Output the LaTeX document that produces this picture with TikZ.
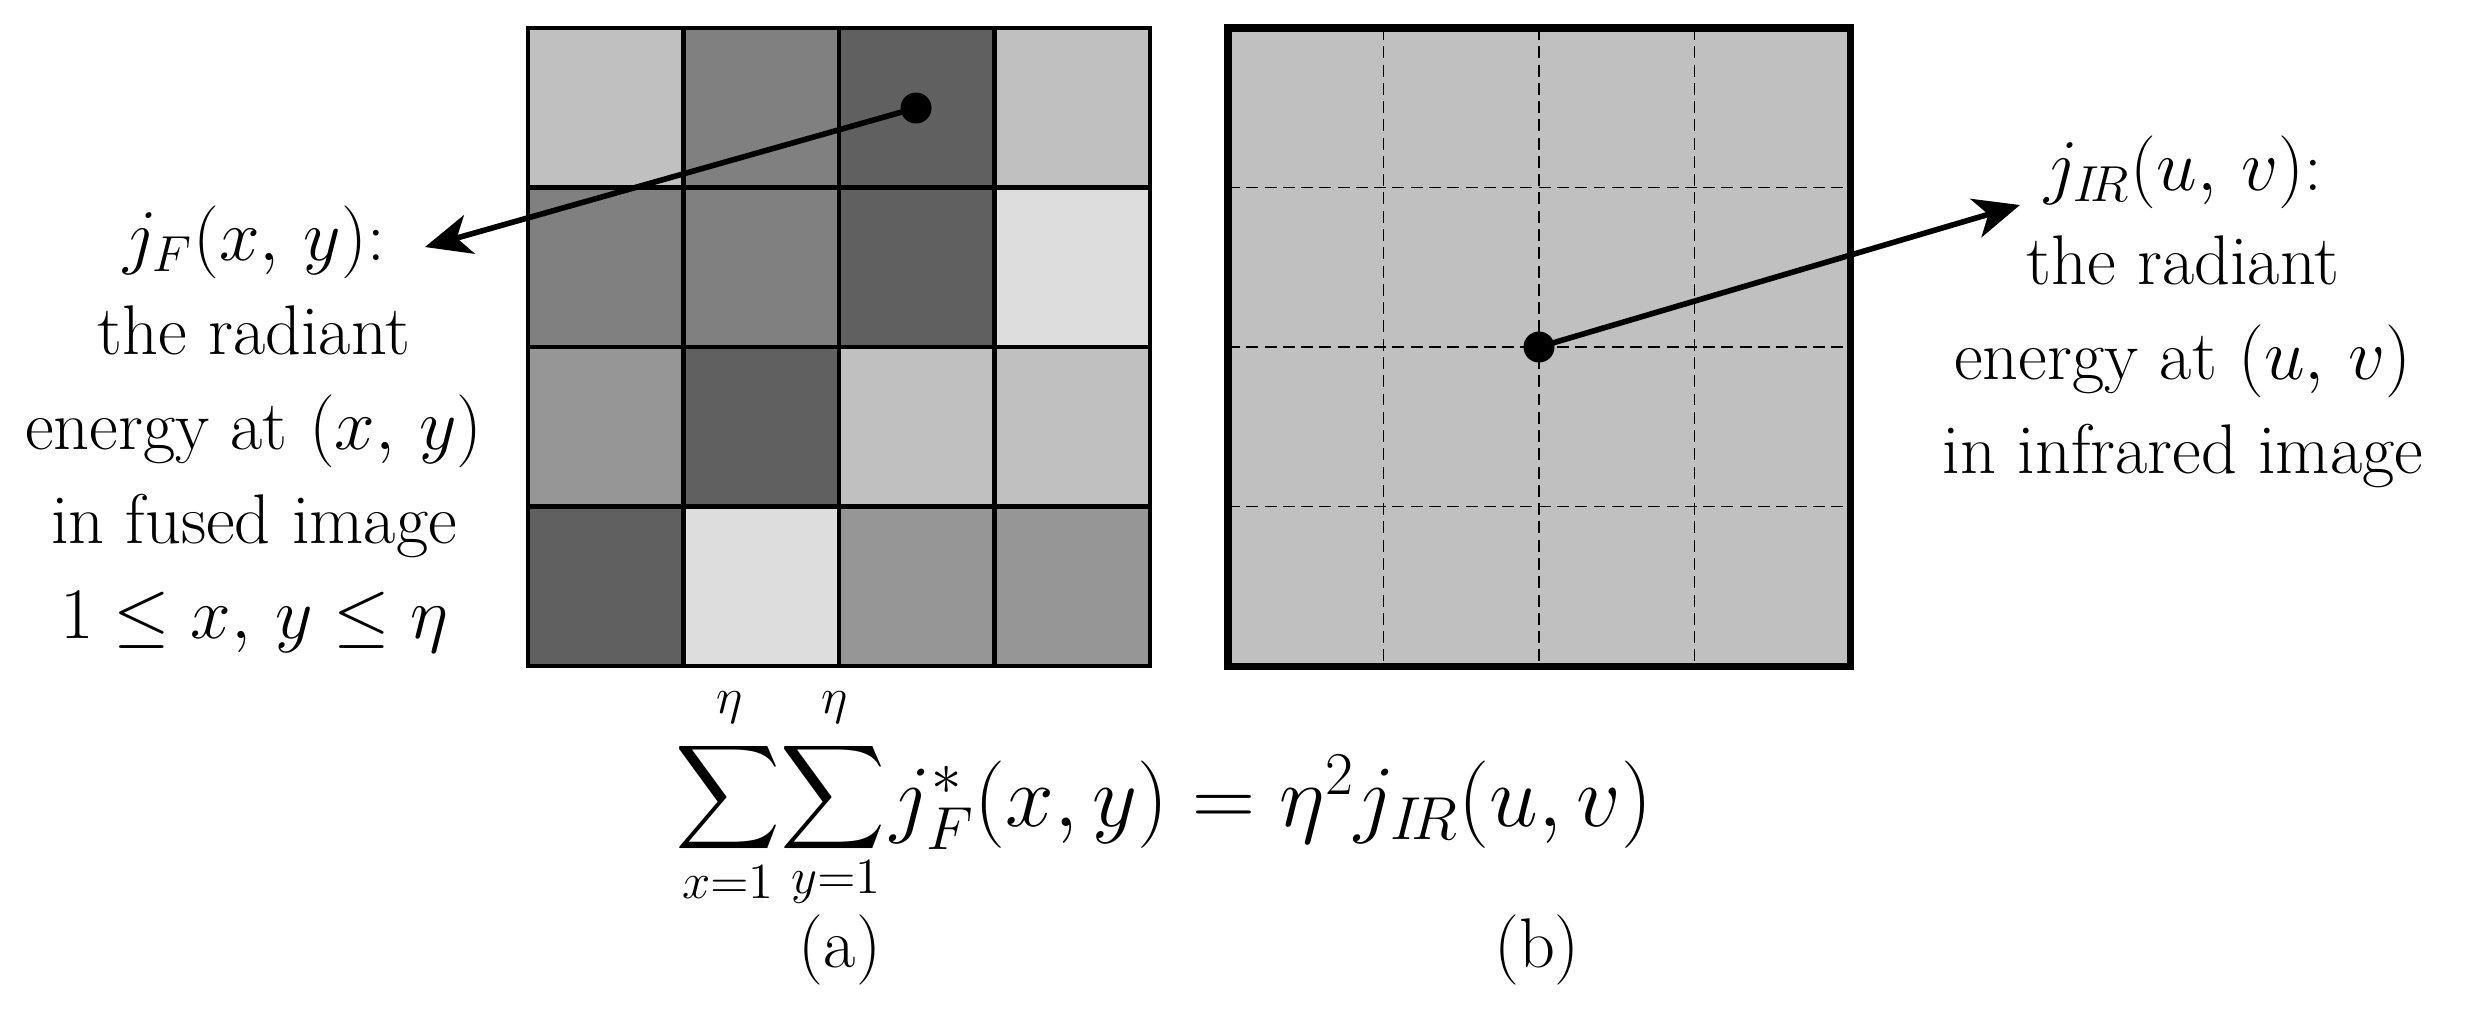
\documentclass[tikz,border=0pt]{standalone}
\usepackage{exscale}
\usetikzlibrary{arrows.meta}
\definecolor{gA}{HTML}{C0C0C0}
\definecolor{gB}{HTML}{808080}
\definecolor{gC}{HTML}{606060}
\definecolor{gD}{HTML}{DDDDDD}
\definecolor{gE}{HTML}{969696}
\tikzset{
  lbl/.style={align=center, inner sep=0pt, font=\fontsize{20}{26.9}\selectfont},
  eqf/.style={inner sep=0pt, font=\fontsize{25.5}{30}\selectfont},
  sigf/.style={inner sep=0pt, font=\fontsize{22.4}{26}\selectfont},
  limf/.style={inner sep=0pt, font=\fontsize{14}{16}\selectfont},
  capf/.style={inner sep=0pt, font=\fontsize{20}{26}\selectfont},
  dotnode/.style={circle, fill=black, inner sep=0pt, minimum size=3.1mm},
  pointer/.style={line width=1.6pt, -{Stealth[length=4.6mm, width=4mm, inset=1.3mm]}},
  gridline/.style={line width=1.2pt},
  dashline/.style={line width=0.4pt, dash pattern=on 3.4pt off 1.8pt},
}
\begin{document}
\begin{tikzpicture}[x=0.1mm, y=-0.1mm]
\useasboundingbox (0,0) rectangle (2471,1011);
% left grid cells
\def\cx{{528,683.5,839,994.5,1150}}
\def\cy{{28,187.5,347,506.5,666}}
\foreach \c [count=\i from 0] in {gA,gB,gC,gA, gB,gB,gC,gD, gE,gC,gA,gA, gC,gD,gE,gE}{
  \pgfmathtruncatemacro\col{mod(\i,4)}
  \pgfmathtruncatemacro\row{div(\i,4)}
  \pgfmathsetmacro\xa{\cx[\col]}
  \pgfmathsetmacro\xb{\cx[\col+1]}
  \pgfmathsetmacro\ya{\cy[\row]}
  \pgfmathsetmacro\yb{\cy[\row+1]}
  \fill[\c] (\xa,\ya) rectangle (\xb,\yb);
}
\foreach \x in {683.5,839,994.5} \draw[gridline] (\x,28) -- (\x,666);
\foreach \y in {187.5,347,506.5} \draw[gridline] (528,\y) -- (1150,\y);
\draw[line width=1.4pt] (528,28) rectangle (1150,666);
% right grid
\fill[gA] (1228,28) rectangle (1850,666);
\foreach \x in {1383.5,1539,1694.5} \draw[dashline] (\x,28) -- (\x,666);
\foreach \y in {187.5,347,506.5} \draw[dashline] (1228,\y) -- (1850,\y);
\draw[line width=2pt] (1228,28) rectangle (1850,666);
% dots
\node[dotnode] (dotL) at (916,108) {};
\node[dotnode] (dotR) at (1539,347) {};
% labels
\node[lbl] (txtL) at (254,429) {$j_F(x,\,y)$:\\the radiant\\energy at $(x,\,y)$\\in fused image\\$1\le x,\,y\le \eta$};
\node[lbl] (txtR) at (2183,312) {$j_{I\!R}(u,\,v)$:\\the radiant\\energy at $(u,\,v)$\\in infrared image};
\coordinate (tipL) at (425,247);
\coordinate (tipR) at (2020,205);
\draw[pointer] (dotL.center) -- (tipL);
\draw[pointer] (dotR.center) -- (tipR);
% formula
\node[sigf] (sig1) at (728,798) {$\displaystyle\sum$};
\node[sigf] (sig2) at (833,798) {$\displaystyle\sum$};
\node[limf] (up1) at (730,708) {$\eta$};
\node[limf] (up2) at (835,708) {$\eta$};
\node[limf] (lo1) at (728,882) {$x{=}1$};
\node[limf] (lo2) at (836,882) {$y{=}1$};
\node[eqf, anchor=base west] (eq) at (890,826) {$j_F^{*}(x,y)=\eta^2 j_{I\!R}(u,v)$};
\node[capf] (capa) at (840,950) {(a)};
\node[capf] (capb) at (1537,950) {(b)};
\end{tikzpicture}
\end{document}
